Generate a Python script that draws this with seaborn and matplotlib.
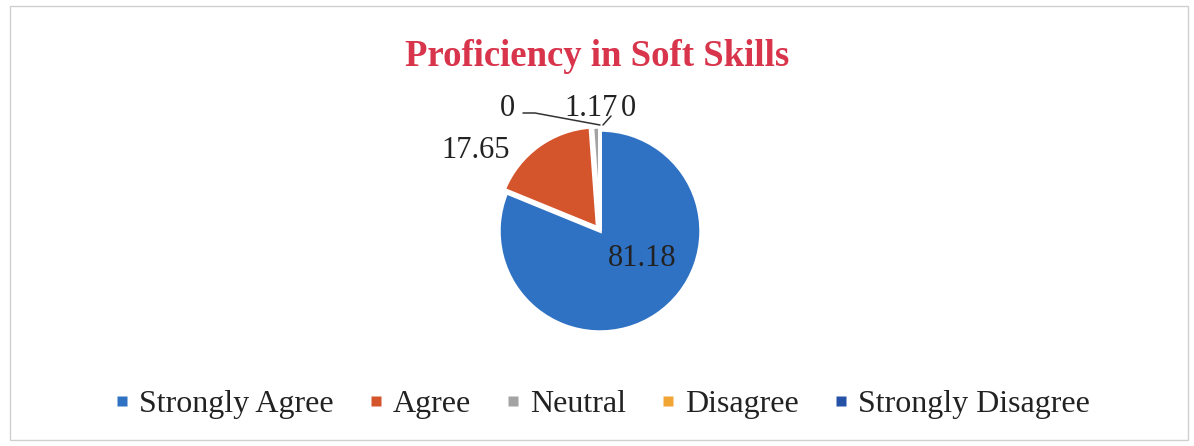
import matplotlib
matplotlib.use("Agg")
import matplotlib.pyplot as plt
import seaborn as sns
import numpy as np
from matplotlib.patches import Rectangle
from matplotlib.lines import Line2D

categories = ["Strongly Agree", "Agree", "Neutral", "Disagree", "Strongly Disagree"]
values = [81.18, 17.65, 1.17, 0, 0]
value_labels = ["81.18", "17.65", "1.17", "0", "0"]
title = "Proficiency in Soft Skills"

sns.set_theme(style="white")
plt.rcParams['font.family'] = ['Liberation Serif', 'DejaVu Serif']

colors = ["#2F72C4", "#D4542C", "#A3A3A3", "#F0A534", "#2552A6"]
text_color = "#222222"

W, H = 1194, 446
fig = plt.figure(figsize=(W / 100, H / 100), dpi=100)
fig.patch.set_facecolor("white")
ax = fig.add_axes([0, 0, 1, 1])

cx, cy, R = 600, H - 231, 101
wedges, _ = ax.pie(values, colors=colors, startangle=90, counterclock=False,
                   center=(cx, cy), radius=R, explode=[0, 4, 3, 0, 0],
                   wedgeprops=dict(edgecolor="white", linewidth=2.5))
ax.set_xlim(0, W)
ax.set_ylim(0, H)
ax.set_aspect("equal")
ax.axis("off")

# label placement offsets (dx, dy) from pie centre, in pixels
label_off = [(42, -28), (-124, 81), (-9, 122), (-93, 122), (28, 122)]
for w, lab, (dx, dy) in zip(wedges, value_labels, label_off):
    ax.text(cx + dx, cy + dy, lab, ha="center", va="center",
            fontsize=22, color=text_color)

# leader lines for the tiny / zero slices
top = np.deg2rad(wedges[3].theta1)
tx, ty = cx + (R + 5) * np.cos(top), cy + (R + 5) * np.sin(top)
ax.plot([cx - 77, cx - 65, tx], [cy + 118, cy + 118, ty], color="#333333", lw=1.1)
ax.plot([tx + 3, cx + 11], [ty, cy + 115], color="#333333", lw=1.1)

fig.text(0.5, 1 - 57 / H, title, ha="center", va="center", fontsize=26.5,
         fontweight="bold", color="#D8344B")

handles = [Line2D([], [], marker="s", linestyle="none", markersize=6.5,
                  markerfacecolor=c, markeredgecolor="none") for c in colors]
leg = fig.legend(handles, categories, loc="center", bbox_to_anchor=(0.505, 1 - 404 / H),
                 ncol=5, frameon=False, fontsize=23, handlelength=0.35,
                 handletextpad=0.35, columnspacing=1.15)
for t in leg.get_texts():
    t.set_color(text_color)

fig.patches.append(Rectangle((10 / W, 6 / H), 1178 / W, 434 / H, transform=fig.transFigure,
                             fill=False, edgecolor="#D0D0D0", lw=1))

fig.savefig("out.png", dpi=100)
